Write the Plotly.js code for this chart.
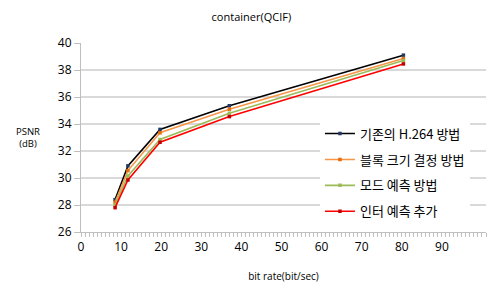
<!DOCTYPE html>
<html><head><meta charset="utf-8">
<script src="https://cdn.plot.ly/plotly-3.0.1.min.js"></script>
<style>body{margin:0;background:#fff}#c{width:491px;height:286px}</style>
</head><body><div id="c"></div>
<script>
const seriesNames = ["기존의 H.264 방법", "블록 크기 결정 방법", "모드 예측 방법", "인터 예측 추가"];
const bitRate = [8.5, 11.7, 19.7, 37.0, 80.4];
const psnrBase = [28.4, 30.9, 33.6, 35.35, 39.1];
const psnrBlock = [28.2, 30.55, 33.35, 35.1, 38.85];
const psnrMode = [28.0, 30.15, 32.85, 34.8, 38.7];
const psnrInter = [27.8, 29.85, 32.65, 34.55, 38.45];
const lineColors = ["#000000", "#f79646", "#9bbb59", "#ff0000"];
const markerColors = ["#1f3864", "#e46c0a", "#9bbb59", "#c00000"];
const allY = [psnrBase, psnrBlock, psnrMode, psnrInter];

const traces = allY.map((ys, i) => ({
  x: bitRate, y: ys, type: 'scatter', mode: 'lines+markers',
  name: seriesNames[i], legendgroup: 'g' + i,
  line: {color: lineColors[i], width: 1.6},
  marker: {color: markerColors[i], size: 3.5, symbol: 'square'}
}));

const layout = {
  width: 491, height: 286,
  margin: {l: 81, r: 5, t: 43, b: 54},
  paper_bgcolor: '#fff', plot_bgcolor: '#fff',
  font: {family: '"Noto Sans CJK KR", "Open Sans", sans-serif', color: '#000'},
  title: {text: 'container(QCIF)', font: {size: 11, family: 'Open Sans, sans-serif'}, x: 0.512, xanchor: 'center', y: 0.94, yanchor: 'middle'},
  xaxis: {
    range: [0, 101], dtick: 10, tick0: 0, showgrid: false, zeroline: false,
    showline: true, linecolor: '#bfbfbf', linewidth: 1,
    ticks: 'outside', ticklen: 4, tickcolor: '#bfbfbf',
    minor: {dtick: 1, ticks: 'outside', ticklen: 4, tickcolor: '#bfbfbf'},
    tickfont: {size: 12, family: 'Open Sans, sans-serif'},
    title: {text: 'bit rate(bit/sec)', font: {size: 10, family: 'Open Sans, sans-serif'}, standoff: 18}
  },
  yaxis: {
    range: [26, 40], dtick: 2, showgrid: true, gridcolor: '#d9d9d9', gridwidth: 1.3,
    zeroline: false, showline: true, linecolor: '#bfbfbf', linewidth: 1,
    ticks: 'outside', ticklen: 6, tickcolor: '#bfbfbf',
    tickfont: {size: 12, family: 'Open Sans, sans-serif'}
  },
  legend: {
    x: 0.59, y: 0.6, xanchor: 'left', yanchor: 'top',
    bgcolor: '#fff', font: {size: 13}, tracegroupgap: 6, itemwidth: 30
  },
  annotations: [{
    text: 'PSNR<br>(dB)', xref: 'paper', yref: 'paper', x: -0.13, y: 0.5,
    xanchor: 'center', yanchor: 'middle', showarrow: false,
    font: {size: 9.5, family: 'Open Sans, sans-serif'}
  }]
};
Plotly.newPlot('c', traces, layout, {displayModeBar: false, staticPlot: true});
</script></body></html>
